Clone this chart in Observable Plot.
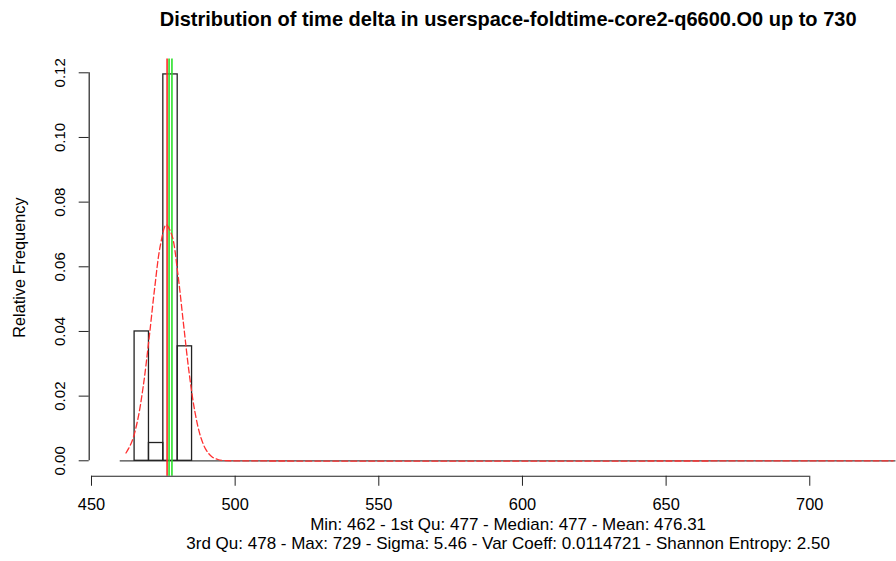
<!DOCTYPE html>
<html>
<head>
<meta charset="utf-8">
<script src="https://cdn.jsdelivr.net/npm/d3@7"></script>
<script src="https://cdn.jsdelivr.net/npm/@observablehq/plot@0.6"></script>
<style>
  html, body { margin: 0; padding: 0; background: #fff; overflow: hidden; }
  #chart svg { display: block; overflow: hidden; }
</style>
</head>
<body>
<div id="chart"></div>
<script>
// ---- data ----
const titleText = "Distribution of time delta in userspace-foldtime-core2-q6600.O0 up to 730";
const yLabel = "Relative Frequency";
const statsLine1 = "Min: 462 - 1st Qu: 477 - Median: 477 - Mean: 476.31";
const statsLine2 = "3rd Qu: 478 - Max: 729 - Sigma: 5.46 - Var Coeff: 0.0114721 - Shannon Entropy: 2.50";

// histogram bins (relative frequency density); last entry covers the empty bins up to 730
const binLo   = [460, 465, 470, 475, 480, 485];
const binHi   = [465, 470, 475, 480, 485, 730];
const relFreq = [0, 0.0400, 0.0055, 0.1195, 0.0354, 0];

// fitted normal density (dashed red)
const curveX = [462, 464, 466, 468, 470, 472, 474, 476, 478, 480, 482, 484, 486, 488, 490, 492, 494, 496, 500, 729];
const curveY = [0.0024, 0.0058, 0.0123, 0.0230, 0.0375, 0.0535, 0.0668, 0.0730, 0.0697, 0.0582, 0.0425, 0.0271, 0.0151, 0.0074, 0.0032, 0.0012, 0.0004, 0.0001, 0, 0];

// summary lines
const meanLine = [476.31];          // red
const quartileLines = [477, 478];   // green (1st Qu / median, 3rd Qu)

const xTicks = [450, 500, 550, 600, 650, 700];
const yTicks = [0, 0.02, 0.04, 0.06, 0.08, 0.10, 0.12];
const xDomain = [449.2, 740.8];
const yDomain = [-0.00478, 0.1243];

// ---- build ----
const bins = binLo.map((lo, i) => ({lo, hi: binHi[i], f: relFreq[i]})).filter(d => d.f > 0);
const curve = curveX.map((x, i) => ({x, y: curveY[i]}));
const xMid = (xDomain[0] + xDomain[1]) / 2;
const yMid = (yDomain[0] + yDomain[1]) / 2;
const font = "'Liberation Sans', Arial, Helvetica, sans-serif";

const chart = Plot.plot({
  width: 896,
  height: 561,
  marginLeft: 88.7,
  marginRight: 0,
  marginTop: 58.4,
  marginBottom: 85.25,
  style: {fontFamily: font, fontSize: "15px", background: "#fff", color: "#000"},
  x: {domain: xDomain, range: [88.7, 926.5]},
  y: {domain: yDomain},
  marks: [
    // empty bins drawn as a flat baseline
    Plot.ruleY([0], {x1: binLo[0], x2: binHi[binHi.length - 1], stroke: "#444", strokeWidth: 1.3}),
    Plot.rect(bins, {x1: "lo", x2: "hi", y1: 0, y2: "f", fill: "none", stroke: "#222", strokeWidth: 1.3}),
    Plot.ruleX(meanLine, {stroke: "#ff2a2a", strokeWidth: 1.6}),
    Plot.ruleX(quartileLines, {stroke: "#2ae02a", strokeWidth: 1.6}),
    Plot.line(curve, {x: "x", y: "y", curve: "catmull-rom", stroke: "#ff3030", strokeWidth: 1.3, strokeDasharray: "6,3"}),
    // axes
    Plot.ruleY([yDomain[0]], {x1: xTicks[0], x2: xTicks[xTicks.length - 1], stroke: "#222", strokeWidth: 1.2}),
    Plot.axisX({ticks: xTicks, tickSize: 10, tickPadding: 12, fontSize: 16.4, label: null, stroke: "#222"}),
    Plot.ruleX([xDomain[0]], {y1: yTicks[0], y2: yTicks[yTicks.length - 1], stroke: "#222", strokeWidth: 1.2}),
    Plot.axisY({ticks: yTicks, tickSize: 10, tickFormat: () => "", label: null, stroke: "#222"}),
    Plot.text(yTicks, {y: d => d, text: d => d.toFixed(2), frameAnchor: "left", dx: -29, rotate: -90,
      textAnchor: "middle", lineAnchor: "middle", fontSize: 15}),
    // labels
    Plot.text([yLabel], {y: yMid, frameAnchor: "left", dx: -69, rotate: -90, textAnchor: "middle", lineAnchor: "middle", fontSize: 16.3}),
    Plot.text([titleText], {x: xMid, frameAnchor: "top", dy: -32.7, lineAnchor: "bottom", fontWeight: "bold", fontSize: 20}),
    Plot.text([statsLine1], {x: xMid, frameAnchor: "bottom", dy: 53.5, lineAnchor: "bottom", fontSize: 17}),
    Plot.text([statsLine2], {x: xMid, frameAnchor: "bottom", dy: 72.5, lineAnchor: "bottom", fontSize: 17})
  ]
});
document.getElementById("chart").appendChild(chart);
</script>
</body>
</html>
